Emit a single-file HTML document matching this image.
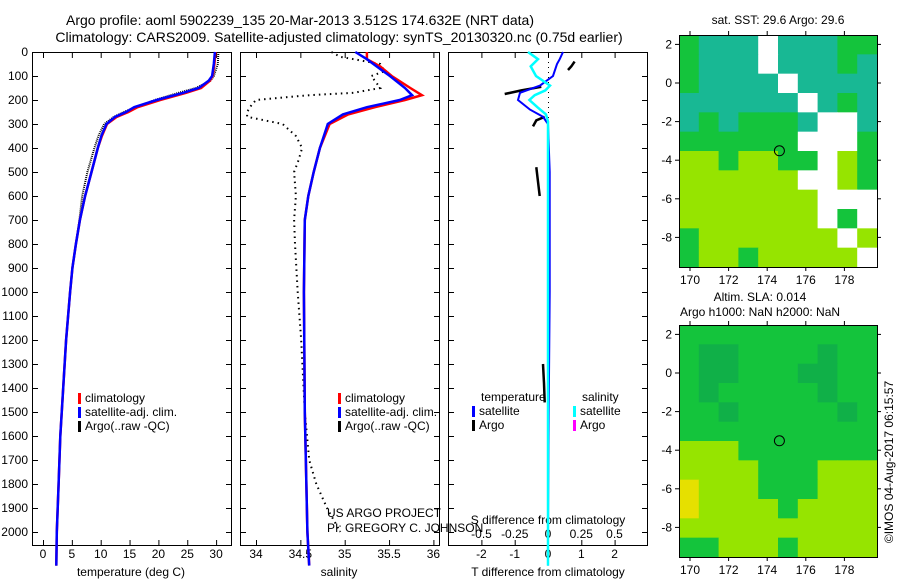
<!DOCTYPE html>
<html><head><meta charset="utf-8"><style>
body{margin:0;background:#fff;}
svg{display:block;font-family:"Liberation Sans",sans-serif;}
text{font-size:12px;fill:#000;}
</style></head><body>
<svg id="fig" width="900" height="580" xmlns="http://www.w3.org/2000/svg">
<text x="300" y="25" text-anchor="middle" style="font-size:14px">Argo profile: aoml 5902239_135 20-Mar-2013 3.512S 174.632E (NRT data)</text>
<text x="339" y="42" text-anchor="middle" style="font-size:14px">Climatology: CARS2009. Satellite-adjusted climatology: synTS_20130320.nc (0.75d earlier)</text>
</svg>
<script>
// ---------- data ----------
const depthTicks=[0,100,200,300,400,500,600,700,800,900,1000,1100,1200,1300,1400,1500,1600,1700,1800,1900,2000];
const tTicks=[0,5,10,15,20,25,30];
const sTicks=[34,34.5,35,35.5,36];
const sTickLabels=["34","34.5","35","35.5","36"];
const dtTicks=[-2,-1,0,1,2];
const dsTicks=[-0.5,-0.25,0,0.25,0.5];
const dsTickLabels=["-0.5","-0.25","0","0.25","0.5"];

const tDepth=[0,50,100,120,150,170,200,230,250,270,300,350,400,500,600,700,800,900,1000,1200,1400,1600,1800,2000,2140];
const tClim=[29.9,29.7,29.4,28.9,27.4,24.8,20.3,16.4,14.8,12.8,11.1,10.2,9.5,8.4,7.3,6.4,5.7,5.1,4.7,4.0,3.5,3.0,2.7,2.4,2.3];
const tSat=[29.8,29.6,29.3,28.7,27.0,24.3,19.7,15.8,14.4,12.5,11.0,10.1,9.5,8.4,7.3,6.4,5.7,5.1,4.7,4.0,3.5,3.0,2.7,2.4,2.3];
const tArgo=[30.4,30.3,29.6,29.0,26.5,23.5,19.4,16,14,12.3,10.6,9.6,8.9,7.7,6.8,6.3,5.7,5.1,4.7,4.0,3.5,3.0,2.7,2.4,2.3];

const sDepth=[0,30,60,100,150,180,200,230,260,300,400,500,600,700,1000,1500,2000,2140];
const sClim=[35.25,35.25,35.4,35.53,35.74,35.87,35.68,35.34,35.04,34.83,34.72,34.65,34.59,34.55,34.54,34.55,34.58,34.6];
const sSat=[35.12,35.25,35.36,35.51,35.68,35.76,35.62,35.25,34.98,34.81,34.72,34.65,34.59,34.55,34.54,34.55,34.58,34.6];
const sArgoDepth=[0,20,50,80,100,150,170,180,200,220,250,270,300,350,400,450,500,600,700,800,1000,1200,1500,1700,1800,1900,2000];
const sArgo=[34.85,34.95,35.4,35.45,35.3,35.4,35.1,34.6,34.0,33.95,33.9,33.9,34.3,34.45,34.52,34.48,34.43,34.45,34.43,34.44,34.47,34.51,34.55,34.6,34.68,34.8,34.95];

const dDepth=[0,30,50,100,140,170,200,240,270,300,500,1000,1500,2000,2140];
const dtSat=[0.45,0.35,0.27,0.15,-0.24,-0.84,-0.9,-0.54,-0.15,0,0.05,0.05,0.02,0.0,0.0];
const dDepthS=[0,30,60,100,140,160,180,200,230,260,290,500,1000,1500,2000,2140];
const dsSat=[-0.15,-0.075,-0.13,-0.09,0.015,-0.02,-0.1,-0.14,-0.08,-0.015,0,0,0,0,0,0];
const dtArgoSegDepth=[[40,60,75],[145,160,175],[270,285,310],[480,540,600],[1300,1380,1460]];
const dtArgoSeg=[[0.8,0.7,0.6],[-0.2,-0.8,-1.3],[-0.1,-0.35,-0.45],[-0.35,-0.3,-0.25],[-0.15,-0.12,-0.1]];

const sstGrid=["gtttwtttgg","gtttwtttgt","gttttwtttt","ttttttwtgt","tgtgggtwwt","ggggggwwwg","yygyyggwyg","yyyyyywwyg","yyyyyyywww","yyyyyyywgw","gyyyyyyywy","gyygyyyyyw"];
const slaGrid=["gggggggggg","gddggggdgg","gddgggddgg","gdgggggdgg","ggdgggggdg","gggggggggg","yyyggggggg","yyyygggyyy","oyyygggyyy","oyyyygyyyy","yyyyyyyyyy","ggyyygyyyy"];
const colorCode={t:"#18b894",g:"#14c43c",d:"#10b048",y:"#96e400",o:"#e6e000",w:"#ffffff"};
const lonTicks=[170,172,174,176,178];
const latTicks=[2,0,-2,-4,-6,-8];
const argoLon=174.632, argoLat=-3.512;

// ---------- helpers ----------
const svg=document.getElementById('fig');
const NS="http://www.w3.org/2000/svg";
function mk(tag,attrs,parent){const e=document.createElementNS(NS,tag);for(const k in attrs)e.setAttribute(k,attrs[k]);(parent||svg).appendChild(e);return e;}
function txt(x,y,s,anchor,parent){const e=mk('text',{x:x,y:y,'text-anchor':anchor||'middle'},parent);e.textContent=s;return e;}
const TOP=52,BOT=545;
const yD=d=>TOP+d*0.24;
function panel(x0,x1,name){
  const g=mk('g',{});
  
  
  mk('rect',{x:x0+0.5,y:TOP+0.5,width:x1-x0,height:BOT-TOP,fill:'none',stroke:'#000'},g);
  depthTicks.forEach(d=>{mk('line',{x1:x0,x2:x0+6,y1:yD(d)+0.5,y2:yD(d)+0.5,stroke:'#000'},g);mk('line',{x1:x1-5,x2:x1+1,y1:yD(d)+0.5,y2:yD(d)+0.5,stroke:'#000'},g);});
  return g;
}
function line(xs,ys,fx,color,w,g,name,dash){
  const pts=xs.map((v,i)=>fx(v).toFixed(1)+','+yD(ys[i]).toFixed(1)).join(' ');
  const p=mk('polyline',{points:pts,fill:'none',stroke:color,'stroke-width':w},g);
  if(dash)p.setAttribute('stroke-dasharray',dash);
  
  
  return p;
}
function xticks(vals,labels,fx,g,ylab){
  vals.forEach((v,i)=>{const x=fx(v);mk('line',{x1:x+0.5,x2:x+0.5,y1:TOP,y2:TOP+6,stroke:'#000'},g);mk('line',{x1:x+0.5,x2:x+0.5,y1:BOT-5,y2:BOT,stroke:'#000'},g);txt(x,ylab,labels[i],'middle',g);});
}
function legend(x,y,items,g){
  items.forEach((it,i)=>{mk('rect',{x:x,y:y+i*14-9,width:3,height:11,fill:it[0]},g);txt(x+7,y+i*14,it[1],'start',g);});
}

// depth labels
const dl=mk('g',{});


depthTicks.forEach(d=>txt(28,yD(d)+4,String(d),'end',dl));

// ---- panel 1: temperature ----
const p1=panel(32,231,'temperature-panel');
const xT=t=>43+t*5.77;
xticks(tTicks,tTicks.map(String),xT,p1,558);
txt(131,576,'temperature (deg C)','middle',p1);
line(tArgo,tDepth,xT,'#000',2,p1,'temperature-argo-line','1 1');
line(tClim,tDepth,xT,'#f00',2.5,p1,'temperature-climatology-line');
line(tSat,tDepth,xT,'#00f',2.5,p1,'temperature-satellite-line');
legend(78,402,[['#f00','climatology'],['#00f','satellite-adj. clim.'],['#000','Argo(..raw -QC)']],p1);

// ---- panel 2: salinity ----
const p2=panel(240,439,'salinity-panel');
const xS=s=>256+(s-34)*88.7;
xticks(sTicks,sTickLabels,xS,p2,558);
txt(339,576,'salinity','middle',p2);
line(sArgo,sArgoDepth,xS,'#000',2,p2,'salinity-argo-dots','1.5 4');
line(sClim,sDepth,xS,'#f00',2.5,p2,'salinity-climatology-line');
line(sSat,sDepth,xS,'#00f',2.5,p2,'salinity-satellite-line');
legend(338,402,[['#f00','climatology'],['#00f','satellite-adj. clim.'],['#000','Argo(..raw -QC)']],p2);
txt(327,517,'US ARGO PROJECT','start',p2);
txt(327,532,'PI: GREGORY C. JOHNSON','start',p2);

// ---- panel 3: differences ----
const p3=panel(448,647,'difference-panel');
const xDT=v=>548+v*33.3;
const xDS=v=>548+v*133;
xticks(dtTicks,dtTicks.map(String),xDT,p3,558);
dsTicks.forEach((v,i)=>txt(xDS(v),538,dsTickLabels[i],'middle',p3));
txt(548,524,'S difference from climatology','middle',p3);
txt(548,576,'T difference from climatology','middle',p3);
mk('line',{x1:548.5,x2:548.5,y1:TOP,y2:yD(300),stroke:'#000','stroke-dasharray':'1 4'},p3);
dtArgoSeg.forEach((seg,i)=>line(seg,dtArgoSegDepth[i],xDT,'#000',2.5,p3,'t-diff-argo-segment'));
line(dtSat,dDepth,xDT,'#00f',2,p3,'t-diff-satellite-line');
line(dsSat,dDepthS,xDS,'#0ff',2.5,p3,'s-diff-satellite-line');
txt(481,401,'temperature','start',p3);
txt(582,401,'salinity','start',p3);
legend(472,415,[['#00f','satellite'],['#000','Argo']],p3);
legend(573,415,[['#0ff','satellite'],['#f0f','Argo']],p3);

// ---- maps ----
function map(top,grid,name){
  const L=679,R=877,B=top+232;
  const g=mk('g',{});
  
  
  const cw=(R-L)/grid[0].length,ch=(B-top)/grid.length;
  grid.forEach((row,r)=>{for(let c=0;c<row.length;c++){
    const cell=mk('rect',{x:L+c*cw,y:top+r*ch,width:cw+0.5,height:ch+0.5,fill:colorCode[row[c]]},g);
    
    
  }});
  mk('rect',{x:L+0.5,y:top+0.5,width:R-L,height:B-top,fill:'none',stroke:'#000'},g);
  const lx=lon=>690+(lon-170)*19.3;
  const ly=lat=>top+48-lat*19.3;
  lonTicks.forEach(l=>{const x=lx(l);mk('line',{x1:x,x2:x,y1:top,y2:top-4,stroke:'#000'},g);mk('line',{x1:x,x2:x,y1:B,y2:B+4,stroke:'#000'},g);txt(x,B+17,String(l),'middle',g);});
  latTicks.forEach(l=>{const y=ly(l);mk('line',{x1:L,x2:L-4,y1:y,y2:y,stroke:'#000'},g);mk('line',{x1:R,x2:R+4,y1:y,y2:y,stroke:'#000'},g);txt(L-7,y+4,String(l),'end',g);});
  const c=mk('circle',{cx:lx(argoLon),cy:ly(argoLat),r:5,fill:'none',stroke:'#000'},g);
  
  
}
map(35,sstGrid,'sst-map');
map(325,slaGrid,'sla-map');
const mt=mk('g',{});


txt(778,24,'sat. SST: 29.6 Argo: 29.6','middle',mt);
txt(760,301,'Altim. SLA: 0.014','middle',mt);
txt(760,316,'Argo h1000: NaN h2000: NaN','middle',mt);
const stamp=txt(0,0,'©IMOS 04-Aug-2017 06:15:57','middle');
stamp.setAttribute('transform','translate(893,462) rotate(-90)');


</script>
</body></html>
